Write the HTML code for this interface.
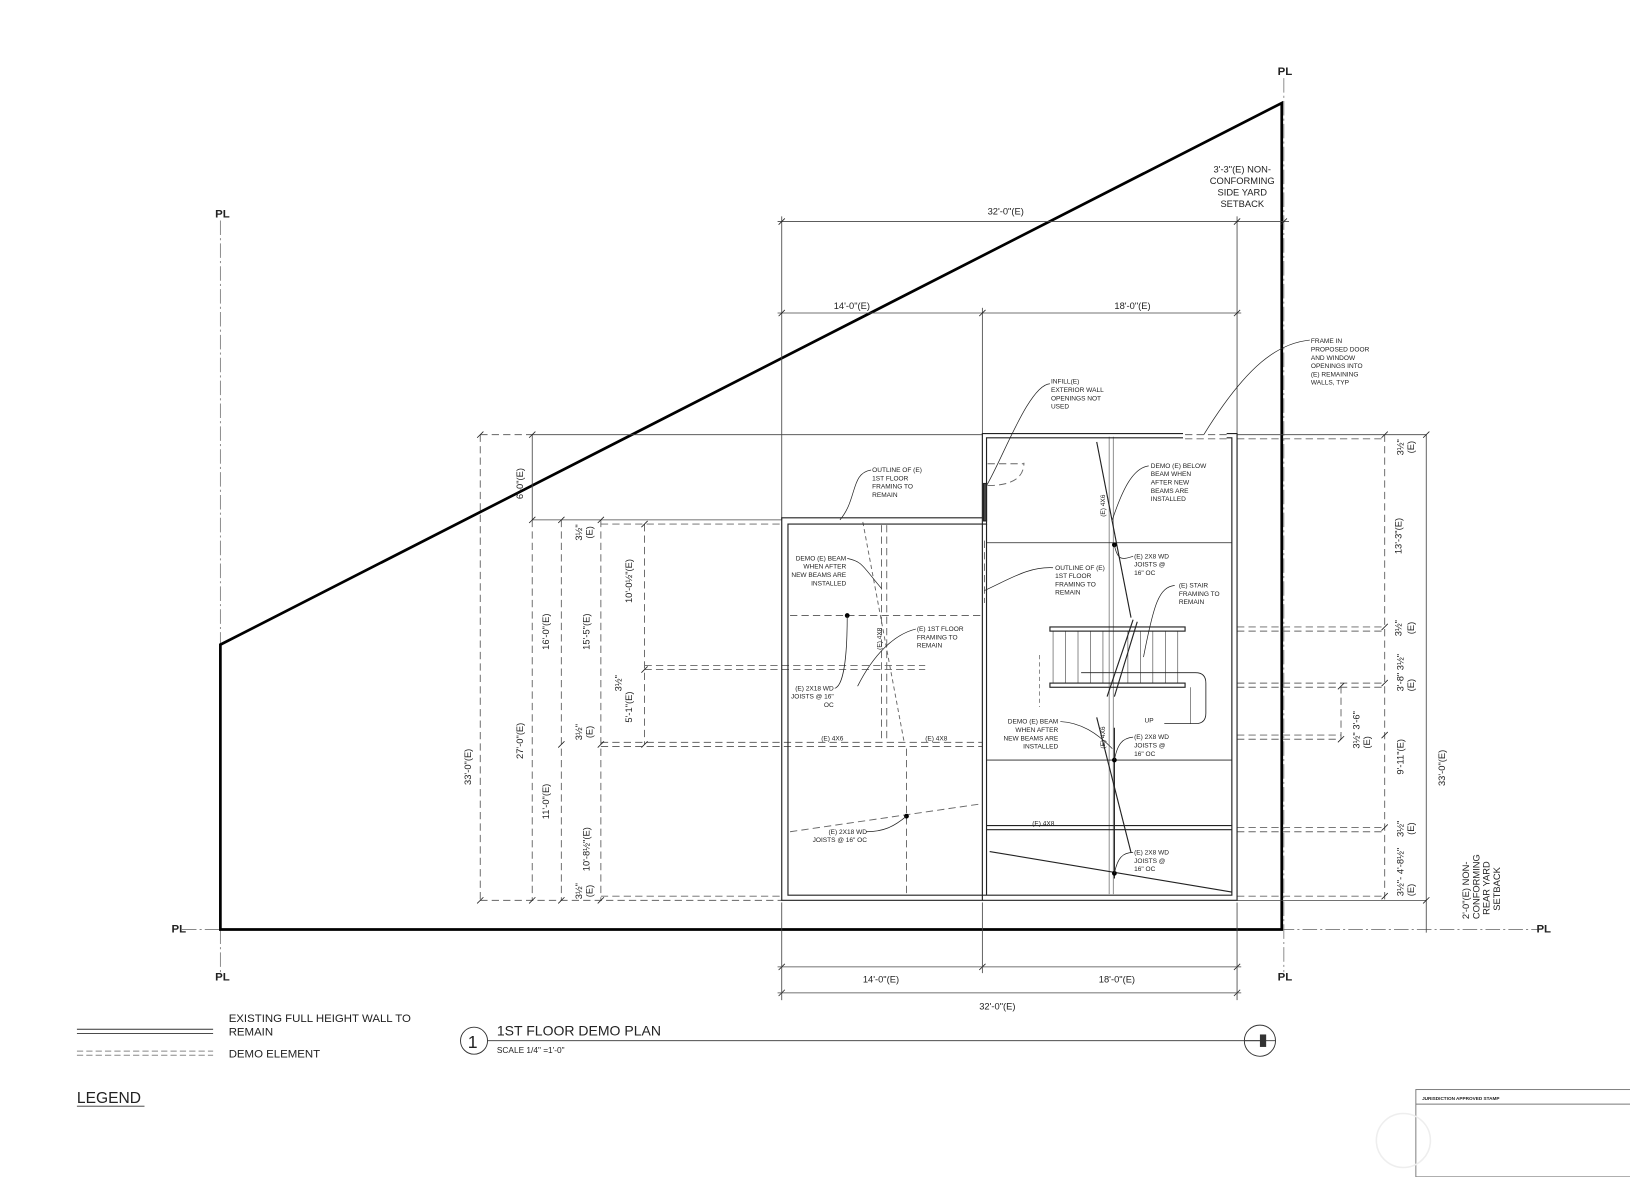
<!DOCTYPE html>
<html><head><meta charset="utf-8"><style>
html,body{margin:0;padding:0;background:#fff}
svg{display:block}
text{font-family:"Liberation Sans",sans-serif;fill:#222}
.s{font-size:6.3px}
.d{font-size:9px}
</style></head><body>
<svg width="1630" height="1177" viewBox="0 0 1568 1132" xmlns="http://www.w3.org/2000/svg">
<g fill="none" stroke="#444" stroke-width="0.8">
<g stroke="#777" stroke-dasharray="14 3 2 3">
<line x1="212" y1="212" x2="212" y2="935"/>
<line x1="1235" y1="75" x2="1235" y2="935"/>
<line x1="175" y1="894" x2="1480" y2="894"/>
</g>
<polygon points="212,620 1233,99 1233,894 212,894" stroke="#000" stroke-width="2.6"/>
<line x1="748" y1="213" x2="1240" y2="213"/>
<line x1="748" y1="301" x2="1194" y2="301"/>
<line x1="752" y1="208" x2="752" y2="500"/>
<line x1="1190" y1="208" x2="1190" y2="418"/>
<line x1="945" y1="296" x2="945" y2="418"/>
<g stroke="#222"><path d="M749,216l6,-6M1187,216l6,-6M1232,216l6,-6M749,304l6,-6M942,304l6,-6M1187,304l6,-6"/>
<path d="M749,933l6,-6M942,933l6,-6M1187,933l6,-6M749,958l6,-6M1187,958l6,-6"/></g>
<line x1="752" y1="868" x2="752" y2="962"/>
<line x1="945" y1="868" x2="945" y2="936"/>
<line x1="1190" y1="868" x2="1190" y2="962"/>
<line x1="748" y1="930" x2="1194" y2="930"/>
<line x1="748" y1="955" x2="1194" y2="955"/>
<line x1="512" y1="418" x2="945" y2="418"/>
<line x1="1190" y1="418" x2="1372" y2="418"/>
<line x1="512" y1="418" x2="512" y2="500"/>
<line x1="512" y1="500" x2="752" y2="500"/>
<line x1="1372" y1="418" x2="1372" y2="897"/>
<line x1="1190" y1="866" x2="1372" y2="866"/>
<path d="M1369,421l6,-6M1369,869l6,-6" stroke="#222"/>
</g>
<g fill="none" stroke="#666" stroke-width="0.9" stroke-dasharray="7 4">
<line x1="462" y1="418" x2="512" y2="418"/>
<line x1="462" y1="418" x2="462" y2="866"/>
<line x1="512" y1="500" x2="512" y2="866"/>
<line x1="540" y1="500" x2="540" y2="866"/>
<line x1="578" y1="500" x2="578" y2="866"/>
<line x1="620" y1="504" x2="620" y2="716"/>
<line x1="462" y1="866" x2="752" y2="866"/>
<line x1="578" y1="504" x2="752" y2="504"/>
<line x1="578" y1="862" x2="752" y2="862"/>
<line x1="620" y1="640" x2="890" y2="640"/>
<line x1="620" y1="644" x2="890" y2="644"/>
<line x1="578" y1="714" x2="945" y2="714"/>
<line x1="578" y1="718" x2="945" y2="718"/>
<line x1="760" y1="592" x2="945" y2="592"/>
<line x1="848" y1="505" x2="848" y2="714"/>
<line x1="853" y1="505" x2="853" y2="714"/>
<line x1="872" y1="720" x2="872" y2="860"/>
<line x1="1332" y1="418" x2="1332" y2="866"/>
<line x1="1190" y1="603" x2="1332" y2="603"/>
<line x1="1190" y1="607" x2="1332" y2="607"/>
<line x1="1190" y1="657" x2="1332" y2="657"/>
<line x1="1190" y1="661" x2="1332" y2="661"/>
<line x1="1190" y1="707" x2="1290" y2="707"/>
<line x1="1190" y1="711" x2="1290" y2="711"/>
<line x1="1290" y1="660" x2="1290" y2="711"/>
<line x1="1190" y1="796" x2="1332" y2="796"/>
<line x1="1190" y1="800" x2="1332" y2="800"/>
<line x1="1190" y1="862" x2="1332" y2="862"/>
<line x1="1190" y1="422" x2="1332" y2="422"/>
<line x1="1140" y1="418" x2="1180" y2="418"/>
<line x1="1140" y1="422" x2="1180" y2="422"/>
<line x1="1067" y1="420" x2="1067" y2="860" stroke-dasharray="none" stroke="#888"/>
<line x1="1071" y1="420" x2="1071" y2="860" stroke-dasharray="none" stroke="#888"/>
<path d="M950,467 Q985,467 985,445 M950,446 L985,446" />
<line x1="947" y1="520" x2="947" y2="580"/>
<line x1="830" y1="502" x2="870" y2="715" stroke-dasharray="4 3"/>
<line x1="760" y1="800" x2="945" y2="773"/>
</g>
<g stroke="#222" stroke-width="0.8">
<path d="M459,421l6,-6M509,421l6,-6M459,869l6,-6M509,869l6,-6M509,503l6,-6M537,503l6,-6M537,719l6,-6M537,869l6,-6M575,503l6,-6M575,719l6,-6M575,869l6,-6M617,507l6,-6M617,647l6,-6M617,719l6,-6"/>
<path d="M1329,421l6,-6M1329,606l6,-6M1329,660l6,-6M1329,710l6,-6M1329,799l6,-6M1329,865l6,-6M1287,663l6,-6M1287,714l6,-6"/>
</g>
<g fill="none" stroke="#222" stroke-width="1.1">
<path d="M1180,417 H1190 V866 H752 V498 H945 V417 H1138"/>
<path d="M1180,421 H1185 V861 H758 V504 H949 V421 H1138"/>
<line x1="945" y1="498" x2="945" y2="866"/>
<line x1="949" y1="504" x2="949" y2="861"/>
<line x1="949" y1="522" x2="1185" y2="522" stroke-width="0.8"/>
<line x1="949" y1="731" x2="1185" y2="731" stroke-width="0.8"/>
<line x1="949" y1="794" x2="1185" y2="794"/>
<line x1="949" y1="798" x2="1185" y2="798"/>
<rect x="1010" y="603" width="130" height="4"/>
<rect x="1010" y="657" width="130" height="4"/>
<path d="M1040,647 H1150 Q1160,647 1160,657 V686 Q1160,696 1150,696 H1120" stroke-width="0.8"/>
<path d="M1013,607v50M1025,607v50M1037,607v50M1049,607v50M1061,607v50M1085,607v50M1097,607v50M1109,607v50M1121,607v50M1133,607v50M1145,661v35" stroke-width="0.5"/>
<line x1="1000" y1="630" x2="1000" y2="680" stroke-dasharray="4 3" stroke-width="0.5"/>
<line x1="1090" y1="596" x2="1065" y2="670"/>
<line x1="1094" y1="598" x2="1072" y2="670"/>
<line x1="1055" y1="425" x2="1088" y2="594"/>
<line x1="1055" y1="690" x2="1088" y2="820"/>
<line x1="1072" y1="700" x2="1072" y2="845"/>
<line x1="952" y1="819" x2="1185" y2="858"/>
<rect x="946" y="465" width="3" height="36" fill="#444"/>
</g>
<g fill="#000"><circle cx="1072" cy="524" r="2.3"/><circle cx="1072" cy="731" r="2.3"/><circle cx="1072" cy="840" r="2.3"/><circle cx="815" cy="592" r="2.3"/><circle cx="872" cy="785" r="2.3"/></g>
<g fill="none" stroke="#222" stroke-width="0.7">
<path d="M808,500 C825,480 818,455 838,452"/>
<path d="M949,467 C965,440 990,370 1010,369"/>
<path d="M1158,418 C1200,350 1230,330 1260,327"/>
<path d="M1070,500 C1080,470 1090,450 1105,448"/>
<path d="M947,568 C975,555 990,545 1013,546"/>
<path d="M1100,632 C1110,580 1115,565 1130,563"/>
<path d="M848,566 C830,545 830,540 815,537"/>
<path d="M825,660 C840,630 860,610 881,605"/>
<path d="M815,592 C815,640 810,660 803,662"/>
<path d="M1070,720 C1055,705 1040,695 1020,694"/>
<path d="M1072,731 C1075,715 1080,710 1090,709"/>
<path d="M1072,524 C1075,540 1080,538 1090,535"/>
<path d="M1072,840 C1075,825 1080,820 1090,820"/>
<path d="M872,785 C860,795 850,800 833,800"/>
</g>
<g font-size="11" font-weight="bold">
<text x="207" y="209">PL</text><text x="1229" y="72">PL</text><text x="165" y="897">PL</text><text x="1478" y="897">PL</text><text x="207" y="943">PL</text><text x="1229" y="943">PL</text>
</g>
<g class="d">
<text x="950" y="206">32'-0"(E)</text>
<text x="802" y="297">14'-0"(E)</text>
<text x="1072" y="297">18'-0"(E)</text>
<text x="830" y="945">14'-0"(E)</text>
<text x="1057" y="945">18'-0"(E)</text>
<text x="942" y="971">32'-0"(E)</text>
<text x="1195" y="166" text-anchor="middle">3'-3"(E) NON-</text>
<text x="1195" y="177" text-anchor="middle">CONFORMING</text>
<text x="1195" y="188" text-anchor="middle">SIDE YARD</text>
<text x="1195" y="199" text-anchor="middle">SETBACK</text>
<g transform="rotate(-90)">
<text x="-480" y="503">6'-0"(E)</text>
<text x="-755" y="453">33'-0"(E)</text>
<text x="-730" y="503">27'-0"(E)</text>
<text x="-625" y="528">16'-0"(E)</text>
<text x="-788" y="528">11'-0"(E)</text>
<text x="-625" y="567">15'-5"(E)</text>
<text x="-838" y="567">10'-8½"(E)</text>
<text x="-580" y="608">10'-0½"(E)</text>
<text x="-695" y="608">5'-1"(E)</text>
<text x="-520" y="560">3½"</text><text x="-518" y="570">(E)</text>
<text x="-712" y="560">3½"</text><text x="-710" y="570">(E)</text>
<text x="-865" y="560">3½"</text><text x="-863" y="570">(E)</text>
<text x="-665" y="598">3½"</text>
<text x="-438" y="1350">3½"</text><text x="-436" y="1360">(E)</text>
<text x="-533" y="1348">13'-3"(E)</text>
<text x="-612" y="1348">3½"</text><text x="-610" y="1360">(E)</text>
<text x="-665" y="1350">3'-8" 3½"</text><text x="-665" y="1360">(E)</text>
<text x="-720" y="1308">3½" 3'-6"</text><text x="-720" y="1318">(E)</text>
<text x="-745" y="1350">9'-11"(E)</text>
<text x="-805" y="1350">3½"</text><text x="-803" y="1360">(E)</text>
<text x="-862" y="1350">3½"- 4'-8½"</text><text x="-862" y="1360">(E)</text>
<text x="-756" y="1390">33'-0"(E)</text>
<text x="-884" y="1413">2'-0"(E) NON-</text>
<text x="-884" y="1423">CONFORMING</text>
<text x="-880" y="1433">REAR YARD</text>
<text x="-876" y="1443">SETBACK</text>
</g>
</g>
<g class="s">
<text x="1011" y="369">INFILL(E)</text><text x="1011" y="377">EXTERIOR WALL</text><text x="1011" y="385">OPENINGS NOT</text><text x="1011" y="393">USED</text>
<text x="1261" y="330">FRAME IN</text><text x="1261" y="338">PROPOSED DOOR</text><text x="1261" y="346">AND WINDOW</text><text x="1261" y="354">OPENINGS INTO</text><text x="1261" y="362">(E) REMAINING</text><text x="1261" y="370">WALLS, TYP</text>
<text x="839" y="454">OUTLINE OF (E)</text><text x="839" y="462">1ST FLOOR</text><text x="839" y="470">FRAMING TO</text><text x="839" y="478">REMAIN</text>
<text x="1107" y="450">DEMO (E) BELOW</text><text x="1107" y="458">BEAM WHEN</text><text x="1107" y="466">AFTER NEW</text><text x="1107" y="474">BEAMS ARE</text><text x="1107" y="482">INSTALLED</text>
<text x="1091" y="537">(E) 2X8 WD</text><text x="1091" y="545">JOISTS @</text><text x="1091" y="553">16" OC</text>
<text x="1015" y="548">OUTLINE OF (E)</text><text x="1015" y="556">1ST FLOOR</text><text x="1015" y="564">FRAMING TO</text><text x="1015" y="572">REMAIN</text>
<text x="1134" y="565">(E) STAIR</text><text x="1134" y="573">FRAMING TO</text><text x="1134" y="581">REMAIN</text>
<g text-anchor="end"><text x="814" y="539">DEMO (E) BEAM</text><text x="814" y="547">WHEN AFTER</text><text x="814" y="555">NEW BEAMS ARE</text><text x="814" y="563">INSTALLED</text>
<text x="802" y="664">(E) 2X18 WD</text><text x="802" y="672">JOISTS @ 16"</text><text x="802" y="680">OC</text>
<text x="1018" y="696">DEMO (E) BEAM</text><text x="1018" y="704">WHEN AFTER</text><text x="1018" y="712">NEW BEAMS ARE</text><text x="1018" y="720">INSTALLED</text>
<text x="834" y="802">(E) 2X18 WD</text><text x="834" y="810">JOISTS @ 16" OC</text></g>
<text x="882" y="607">(E) 1ST FLOOR</text><text x="882" y="615">FRAMING TO</text><text x="882" y="623">REMAIN</text>
<text x="1091" y="711">(E) 2X8 WD</text><text x="1091" y="719">JOISTS @</text><text x="1091" y="727">16" OC</text>
<text x="1091" y="822">(E) 2X8 WD</text><text x="1091" y="830">JOISTS @</text><text x="1091" y="838">16" OC</text>
<text x="790" y="712">(E) 4X6</text><text x="890" y="712">(E) 4X8</text><text x="993" y="794">(E) 4X8</text><text x="1101" y="695">UP</text>
<g transform="rotate(-90)"><text x="-625" y="848">(E) 4X8</text><text x="-497" y="1063">(E) 4X6</text><text x="-720" y="1063">(E) 4X6</text></g>
</g>
<g stroke="#333" stroke-width="0.9" fill="none">
<line x1="74" y1="990" x2="205" y2="990"/><line x1="74" y1="994" x2="205" y2="994"/>
<g stroke="#888" stroke-dasharray="6 3"><line x1="74" y1="1011" x2="205" y2="1011"/><line x1="74" y1="1015" x2="205" y2="1015"/></g>
<circle cx="456" cy="1001" r="13"/>
<line x1="469" y1="1001" x2="1212" y2="1001"/>
<circle cx="1212" cy="1001" r="15"/>
<line x1="1197" y1="1001" x2="1227" y2="1001"/>
<line x1="74" y1="1064" x2="139" y2="1064"/>
<rect x="1362" y="1048" width="210" height="84" stroke="#777"/>
<line x1="1362" y1="1062" x2="1572" y2="1062" stroke="#777"/>
<circle cx="1350" cy="1097" r="26" stroke="#eee" stroke-width="1.5"/>
</g>
<path d="M1212,995 V1007 H1218 V995 Z" fill="#333"/>
<text x="220" y="983" font-size="11">EXISTING FULL HEIGHT WALL TO</text>
<text x="220" y="996" font-size="11">REMAIN</text>
<text x="220" y="1017" font-size="11">DEMO ELEMENT</text>
<text x="74" y="1061" font-size="15">LEGEND</text>
<text x="450" y="1008" font-size="17">1</text>
<text x="478" y="996" font-size="13.5">1ST FLOOR DEMO PLAN</text>
<text x="478" y="1013" font-size="8">SCALE 1/4" =1'-0"</text>
<text x="1368" y="1058" font-size="4.5" font-weight="bold">JURISDICTION APPROVED STAMP</text>
</svg>
</body></html>
